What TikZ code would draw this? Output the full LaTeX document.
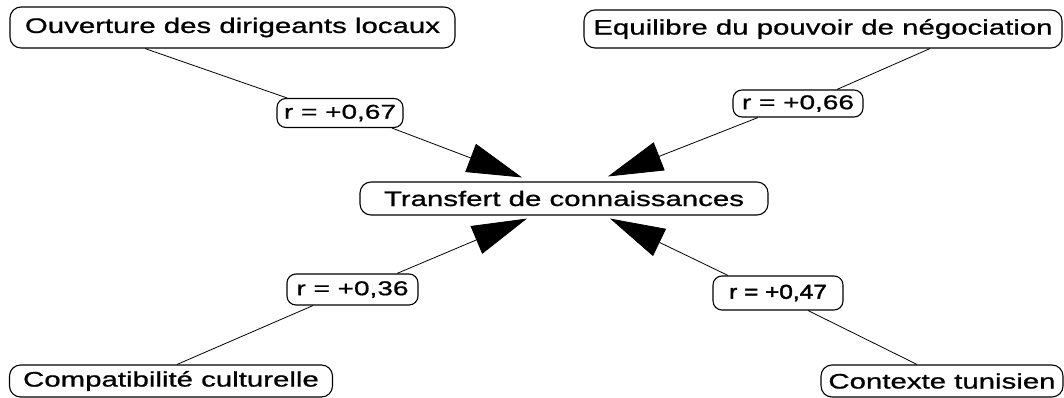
\documentclass[tikz,border=0pt]{standalone}
\usepackage{fontspec}
\setmainfont{Liberation Sans}[FakeStretch=1.40,FakeBold=0.9]
\newfontfamily\rbold{Liberation Sans}[FakeStretch=1.22,FakeBold=2.2]
\usetikzlibrary{arrows.meta}
\begin{document}
\begin{tikzpicture}[x=1pt,y=-1pt,
  box/.style={draw, line width=1.1pt, rounded corners=11pt, inner sep=0pt, align=center,
    font=\fontsize{21}{24}\selectfont},
  rbox/.style={box, rounded corners=9pt, font=\fontsize{20}{22}\selectfont},
  link/.style={line width=0.8pt},
  arr/.style={line width=0.8pt, -{Triangle[length=55pt,width=30pt]}}]
\useasboundingbox (0,0) rectangle (1064,398);
\node[box, minimum width=445pt, minimum height=41pt] (ouv) at (232.5,27.5) {Ouverture des dirigeants locaux};
\node[box, minimum width=478pt, minimum height=38pt] (equ) at (823,29) {Equilibre du pouvoir de négociation};
\node[rbox, minimum width=126pt, minimum height=29pt] (r67) at (340,113) {r = +0,67};
\node[rbox, minimum width=130pt, minimum height=27pt] (r66) at (798,103.5) {r = +0,66};
\node[box, minimum width=408pt, minimum height=33pt] (tr) at (564,198.5) {Transfert de connaissances};
\node[rbox, minimum width=131pt, minimum height=31pt] (r36) at (352.5,289.5) {r = +0,36};
\node[rbox, minimum width=130pt, minimum height=34pt, font=\rbold\fontsize{20}{22}\selectfont] (r47) at (778,293) {r = +0,47};
\node[box, minimum width=323pt, minimum height=32pt] (comp) at (171,381) {Compatibilité culturelle};
\node[box, minimum width=242pt, minimum height=32pt] (cont) at (942,381) {Contexte tunisien};

\draw[link] ([xshift=-87.5pt]ouv.south) -- ([xshift=-53pt]r67.north);
\draw[arr] ([xshift=52pt]r67.south) -- ([xshift=-42pt,yshift=4pt]tr.north);
\draw[link] ([xshift=107pt]equ.south) -- ([xshift=39pt]r66.north);
\draw[arr] ([xshift=-40pt]r66.south) -- ([xshift=44pt,yshift=5pt]tr.north);
\draw[link] ([xshift=6pt]comp.north) -- ([xshift=-39.5pt]r36.south);
\draw[arr] ([xshift=44.5pt]r36.north) -- ([xshift=-37pt,yshift=-3pt]tr.south);
\draw[link] ([xshift=-25pt]cont.north) -- ([xshift=30pt]r47.south);
\draw[arr] ([xshift=-50pt]r47.north) -- ([xshift=46pt,yshift=-3pt]tr.south);
\end{tikzpicture}
\end{document}
